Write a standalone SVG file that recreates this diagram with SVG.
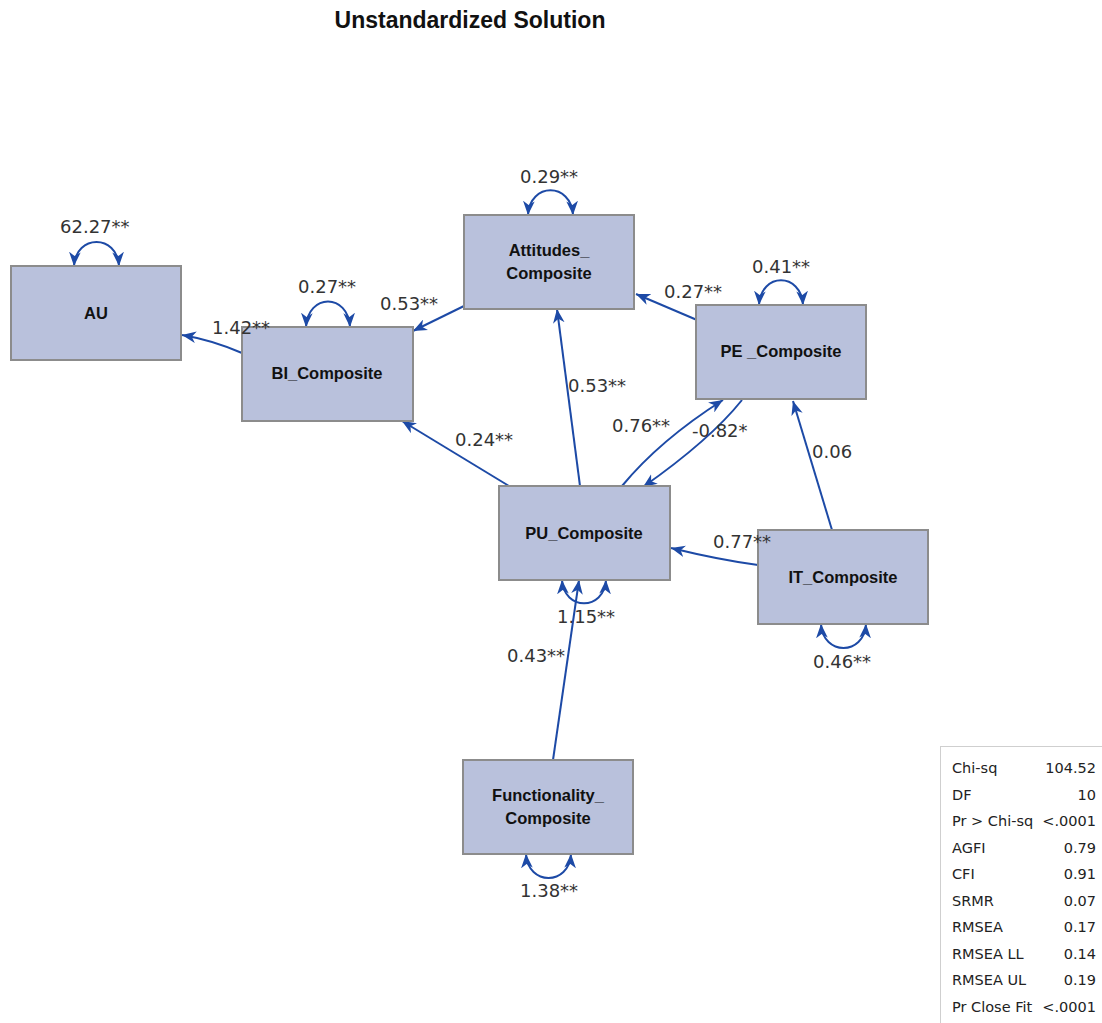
<svg xmlns="http://www.w3.org/2000/svg" width="1102" height="1023" viewBox="0 0 1102 1023">
  <style>
    .box { fill: #b9c1dc; stroke: #8c8c8c; stroke-width: 2; }
    .nlabel { font-family: "Liberation Sans", Arial, sans-serif; font-weight: bold; font-size: 16.5px; fill: #111; text-anchor: middle; }
    .edge { fill: none; stroke: #1d4aa6; stroke-width: 2; }
    .path { marker-end: url(#arrow); }
    .var { marker-start: url(#arrowRev); marker-end: url(#arrow); }
    .elabel { font-family: "DejaVu Sans", Verdana, sans-serif; font-size: 18px; fill: #333; }
    .title { font-family: "Liberation Sans", Arial, sans-serif; font-weight: bold; font-size: 23px; fill: #111; text-anchor: middle; }
    .fit { font-family: "DejaVu Sans", Verdana, sans-serif; font-size: 14.5px; fill: #222; }
    .fitv { text-anchor: end; }
  </style>
  <defs>
    <marker id="arrow" viewBox="0 0 12 10" refX="12" refY="5" markerWidth="14" markerHeight="12" markerUnits="userSpaceOnUse" orient="auto">
      <path d="M0,0 L12,5 L0,10 L3.5,5 z" fill="#1d4aa6"/>
    </marker>
    <marker id="arrowRev" viewBox="0 0 12 10" refX="12" refY="5" markerWidth="14" markerHeight="12" markerUnits="userSpaceOnUse" orient="auto-start-reverse">
      <path d="M0,0 L12,5 L0,10 L3.5,5 z" fill="#1d4aa6"/>
    </marker>
  </defs>

  <rect width="1102" height="1023" fill="#ffffff"/>

  <text class="title" x="470" y="28">Unstandardized Solution</text>

  <!-- connectors: structural paths and variance loops -->
  <g id="connectors">
    <path class="edge path" d="M242,353 Q212,340 182,335"/>
    <path class="edge path" d="M464,306 L413,331"/>
    <path class="edge path" d="M509,486 L402,421"/>
    <path class="edge path" d="M580,486 L557,309"/>
    <path class="edge path" d="M697,320 L636,294"/>
    <path class="edge path" d="M622,486 Q660,440 723,400"/>
    <path class="edge path" d="M742,400 Q710,440 643,487"/>
    <path class="edge path" d="M832,530 L793,401"/>
    <path class="edge path" d="M758,565 Q720,560 671,548"/>
    <path class="edge path" d="M553,760 L579,580"/>

    <path class="edge var" d="M74,266 C76,234 117,234 119,266"/>
    <path class="edge var" d="M306,327 C308,293 348,293 350,327"/>
    <path class="edge var" d="M528,215 C530,182 571,182 573,215"/>
    <path class="edge var" d="M759,305 C761,272 801,272 803,305"/>
    <path class="edge var" d="M562,580 C564,611 604,611 606,580"/>
    <path class="edge var" d="M821,624 C823,656 864,656 866,624"/>
    <path class="edge var" d="M526,854 C528,886 569,886 571,854"/>
  </g>

  <g id="AU">
    <rect class="box" x="11" y="266" width="170" height="94"/>
    <text class="nlabel" x="96" y="319">AU</text>
  </g>
  <g id="BI_Composite">
    <rect class="box" x="242" y="327" width="171" height="94"/>
    <text class="nlabel" x="327" y="379">BI_Composite</text>
  </g>
  <g id="Attitudes_Composite">
    <rect class="box" x="464" y="215" width="170" height="94"/>
    <text class="nlabel" x="549" y="256">Attitudes_</text>
    <text class="nlabel" x="549" y="279">Composite</text>
  </g>
  <g id="PE_Composite">
    <rect class="box" x="696" y="305" width="170" height="94"/>
    <text class="nlabel" x="781" y="357">PE _Composite</text>
  </g>
  <g id="PU_Composite">
    <rect class="box" x="499" y="486" width="171" height="94"/>
    <text class="nlabel" x="584" y="539">PU_Composite</text>
  </g>
  <g id="IT_Composite">
    <rect class="box" x="758" y="530" width="170" height="94"/>
    <text class="nlabel" x="843" y="583">IT_Composite</text>
  </g>
  <g id="Functionality_Composite">
    <rect class="box" x="463" y="760" width="170" height="94"/>
    <text class="nlabel" x="548" y="801">Functionality_</text>
    <text class="nlabel" x="548" y="824">Composite</text>
  </g>

  <!-- estimates are drawn last so they sit on top of boxes and lines -->
  <g id="edge-labels">
    <text class="elabel" x="60" y="233">62.27**</text>
    <text class="elabel" x="298" y="293">0.27**</text>
    <text class="elabel" x="380" y="310">0.53**</text>
    <text class="elabel" x="212" y="334">1.42**</text>
    <text class="elabel" x="520" y="183">0.29**</text>
    <text class="elabel" x="752" y="273">0.41**</text>
    <text class="elabel" x="664" y="298">0.27**</text>
    <text class="elabel" x="568" y="392">0.53**</text>
    <text class="elabel" x="612" y="432">0.76**</text>
    <text class="elabel" x="692" y="437">-0.82*</text>
    <text class="elabel" x="812" y="458">0.06</text>
    <text class="elabel" x="455" y="446">0.24**</text>
    <text class="elabel" x="713" y="548">0.77**</text>
    <text class="elabel" x="557" y="623">1.15**</text>
    <text class="elabel" x="507" y="662">0.43**</text>
    <text class="elabel" x="813" y="668">0.46**</text>
    <text class="elabel" x="520" y="897">1.38**</text>
  </g>

  <!-- fit statistics table -->
  <g id="fit-table">
    <rect x="940.5" y="746.5" width="170" height="290" fill="#ffffff" stroke="#cfcfcf" stroke-width="1"/>
    <text class="fit" x="952" y="773">Chi-sq</text><text class="fit fitv" x="1096" y="773">104.52</text>
    <text class="fit" x="952" y="799.5">DF</text><text class="fit fitv" x="1096" y="799.5">10</text>
    <text class="fit" x="952" y="826">Pr &gt; Chi-sq</text><text class="fit fitv" x="1096" y="826">&lt;.0001</text>
    <text class="fit" x="952" y="852.5">AGFI</text><text class="fit fitv" x="1096" y="852.5">0.79</text>
    <text class="fit" x="952" y="879">CFI</text><text class="fit fitv" x="1096" y="879">0.91</text>
    <text class="fit" x="952" y="905.5">SRMR</text><text class="fit fitv" x="1096" y="905.5">0.07</text>
    <text class="fit" x="952" y="932">RMSEA</text><text class="fit fitv" x="1096" y="932">0.17</text>
    <text class="fit" x="952" y="958.5">RMSEA LL</text><text class="fit fitv" x="1096" y="958.5">0.14</text>
    <text class="fit" x="952" y="985">RMSEA UL</text><text class="fit fitv" x="1096" y="985">0.19</text>
    <text class="fit" x="952" y="1011.5">Pr Close Fit</text><text class="fit fitv" x="1096" y="1011.5">&lt;.0001</text>
  </g>
</svg>
